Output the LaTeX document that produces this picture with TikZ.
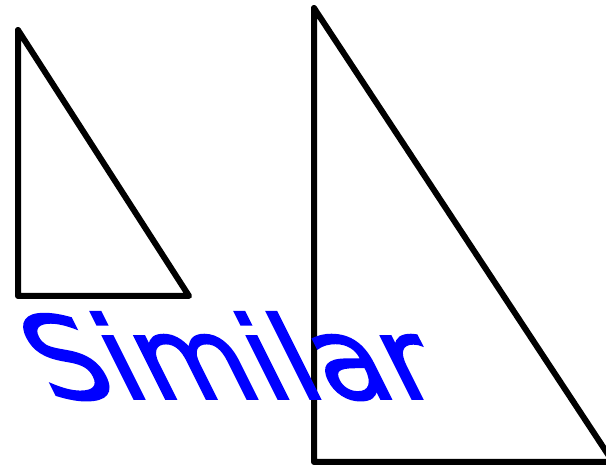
\documentclass[tikz,border=0pt]{standalone}
\usepackage{fontspec}
\setmainfont{DejaVu Sans}
\newfontfamily\handfont[FakeBold=1.5]{DejaVu Sans}
\definecolor{ink}{RGB}{0,0,255}
\begin{document}
\begin{tikzpicture}[x=1pt,y=-1pt,
  tri/.style={draw=black,line width=6pt,line join=round,line cap=round},
  hand/.style={text=ink,font=\handfont\fontsize{115}{115}\selectfont,inner sep=0pt}]
\useasboundingbox (0,0) rectangle (606,465);
\begin{scope}
\clip (0,0) rectangle (606,465);
\draw[tri] (18,30) -- (18,296) -- (189,296) -- cycle;
\draw[tri] (314,8) -- (314,462) -- (613,462) -- cycle;
\end{scope}
\begin{scope}[shift={(50,399)},xslant=-0.5]
\node[hand,anchor=base west,transform shape] (word) at (0,0) {Similar};
\end{scope}
\end{tikzpicture}
\end{document}
